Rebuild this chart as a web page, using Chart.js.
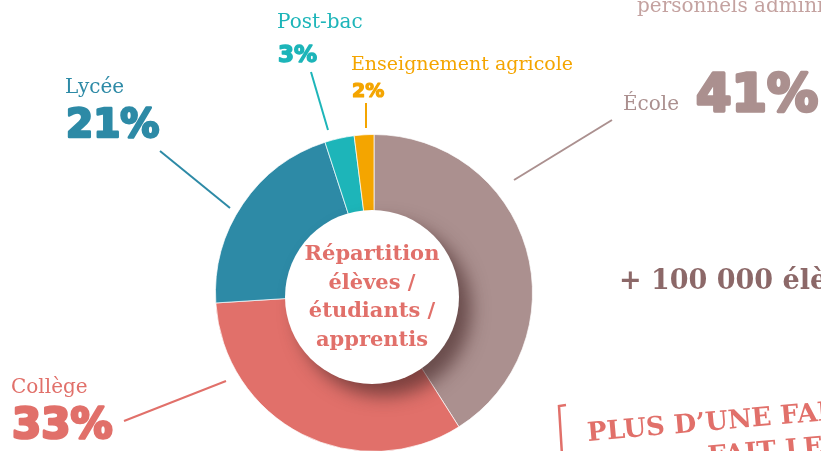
<!DOCTYPE html>
<html>
<head>
<meta charset="utf-8">
<script src="https://cdn.jsdelivr.net/npm/chart.js@4/dist/chart.umd.min.js"></script>
<style>
  html, body { margin: 0; padding: 0; background: #fff; overflow: hidden; }
  #wrap { width: 821px; height: 451px; overflow: hidden; }
</style>
</head>
<body>
<div id="wrap"><canvas id="myChart-repartition" width="821" height="470"></canvas></div>
<script>
// donnees
const categories = ['École', 'Collège', 'Lycée', 'Post-bac', 'Enseignement agricole'];
const shares = [41, 33, 21, 3, 2];
const colors = ['#ab908f', '#e1706a', '#2d8aa6', '#1db5b9', '#f4a500'];
const centerLines = ['Répartition', 'élèves /', 'étudiants /', 'apprentis'];

const SERIF = '"DejaVu Serif", serif';
const SANS = '"DejaVu Sans", sans-serif';

// label placement, offsets from the doughnut centre
const labelLayout = [
  { line: [140, -113, 238, -173], name: [249, -183, 20], pct: [322, -182, 51] },
  { line: [-148, 88, -250, 128], name: [-363, 100, 20], pct: [-362, 145, 42] },
  { line: [-144, -85, -214, -142], name: [-309, -200, 20], pct: [-308, -156, 39] },
  { line: [-46, -163, -63, -221], name: [-97, -265, 20], pct: [-96, -231, 23] },
  { line: [-8, -165, -8, -190], name: [-23, -223, 19], pct: [-22, -196, 19] }
];

const labelsPlugin = {
  id: 'labels',
  afterDatasetsDraw(chart) {
    const ctx = chart.ctx;
    const arc = chart.getDatasetMeta(0).data[0];
    const cx = arc.x, cy = arc.y;

    // centre disc with shadow
    ctx.save();
    ctx.shadowColor = 'rgba(70, 40, 40, 0.65)';
    ctx.shadowBlur = 18;
    ctx.shadowOffsetX = 12;
    ctx.shadowOffsetY = 12;
    ctx.fillStyle = '#fff';
    ctx.beginPath();
    ctx.arc(cx - 2, cy + 4, 87, 0, Math.PI * 2);
    ctx.fill();
    ctx.restore();

    ctx.save();
    ctx.fillStyle = '#e1706a';
    ctx.font = 'bold 21px ' + SERIF;
    ctx.textAlign = 'center';
    ctx.textBaseline = 'middle';
    centerLines.forEach((t, i) => ctx.fillText(t, cx - 2, cy - 38 + i * 28.5));
    ctx.restore();

    // outer labels
    labelLayout.forEach((l, i) => {
      ctx.save();
      ctx.strokeStyle = colors[i];
      ctx.fillStyle = colors[i];
      ctx.lineWidth = 2;
      ctx.beginPath();
      ctx.moveTo(cx + l.line[0], cy + l.line[1]);
      ctx.lineTo(cx + l.line[2], cy + l.line[3]);
      ctx.stroke();
      ctx.textAlign = 'left';
      ctx.textBaseline = 'alphabetic';
      ctx.font = l.name[2] + 'px ' + SERIF;
      ctx.fillText(categories[i], cx + l.name[0], cy + l.name[1]);
      // heavy figures: bold face thickened by a stroke of the same colour
      ctx.font = 'bold ' + l.pct[2] + 'px ' + SANS;
      ctx.lineJoin = 'round';
      ctx.lineWidth = l.pct[2] * 0.065;
      ctx.fillText(shares[i] + '%', cx + l.pct[0], cy + l.pct[1]);
      ctx.strokeText(shares[i] + '%', cx + l.pct[0], cy + l.pct[1]);
      ctx.restore();
    });

    // surrounding page text (cut by the frame)
    ctx.save();
    ctx.textAlign = 'left';
    ctx.textBaseline = 'alphabetic';
    ctx.fillStyle = '#c4a2a0';
    ctx.font = '20px ' + SERIF;
    ctx.fillText('personnels administratifs', 637, 12);
    ctx.fillStyle = '#8c6868';
    ctx.font = 'bold 27px ' + SERIF;
    ctx.fillText('+ 100 000 élèves', 619, 289);
    ctx.strokeStyle = '#e1706a';
    ctx.lineWidth = 2.5;
    ctx.beginPath();
    ctx.moveTo(566, 405);
    ctx.lineTo(559, 406);
    ctx.lineTo(562, 455);
    ctx.stroke();
    ctx.translate(588, 441);
    ctx.rotate(-5 * Math.PI / 180);
    ctx.fillStyle = '#e1706a';
    ctx.font = 'bold 26px ' + SERIF;
    ctx.fillText('PLUS D’UNE FAMILLE SUR DEUX', 0, 0);
    ctx.fillText('FAIT LE CHOIX', 118, 34);
    ctx.restore();
  }
};

const ctx1 = document.getElementById('myChart-repartition').getContext('2d');
const myChart1 = new Chart(ctx1, {
  type: 'doughnut',
  data: {
    labels: categories,
    datasets: [{
      data: shares,
      backgroundColor: colors,
      borderColor: 'rgba(255,255,255,0.7)',
      borderWidth: 1
    }]
  },
  options: {
    responsive: false,
    animation: false,
    cutout: '50%',
    layout: { padding: { left: 215, right: 288, top: 134, bottom: 18 } },
    plugins: {
      legend: { display: false },
      tooltip: { enabled: false }
    }
  },
  plugins: [labelsPlugin]
});
</script>
</body>
</html>
